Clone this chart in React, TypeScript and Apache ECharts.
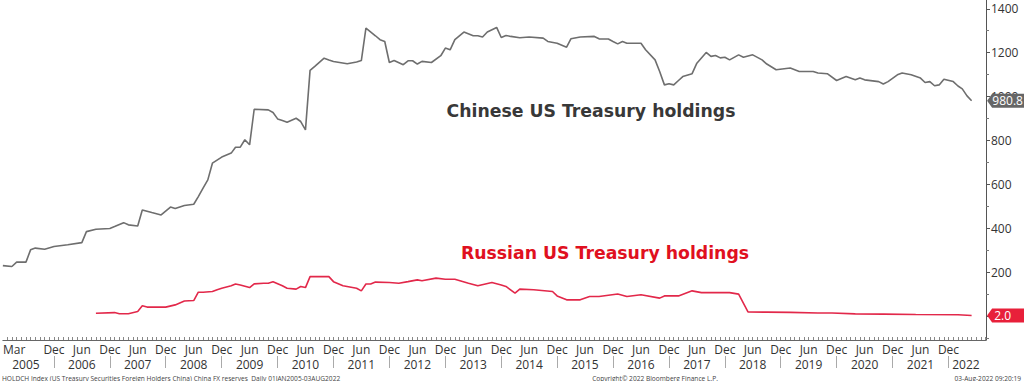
import React, { useEffect, useRef } from 'react';
import * as echarts from 'echarts';

// ---------- data ----------
const chinaDates = [
  '2005-01','2005-03','2005-04','2005-06','2005-07','2005-08','2005-10','2005-12',
  '2006-03','2006-06','2006-07','2006-09','2006-12',
  '2007-01','2007-03','2007-04','2007-06','2007-07','2007-09','2007-11',
  '2008-01','2008-02','2008-04','2008-06','2008-07','2008-08','2008-09','2008-10','2008-12',
  '2009-02','2009-03','2009-04','2009-05','2009-06','2009-07','2009-10','2009-11','2009-12',
  '2010-01','2010-02','2010-04','2010-05','2010-06','2010-07','2010-08','2010-10','2010-11','2010-12',
  '2011-03','2011-05','2011-06','2011-07','2011-09','2011-10','2011-11','2011-12',
  '2012-01','2012-03','2012-04','2012-05','2012-06','2012-07','2012-09','2012-11','2012-12',
  '2013-01','2013-02','2013-04','2013-06','2013-07','2013-08','2013-09','2013-11','2013-12',
  '2014-01','2014-02','2014-04','2014-06','2014-09','2014-10','2014-12',
  '2015-02','2015-03','2015-05','2015-08','2015-09','2015-11','2015-12',
  '2016-01','2016-02','2016-03','2016-06','2016-07','2016-09','2016-10','2016-11','2016-12',
  '2017-01','2017-02','2017-03','2017-05','2017-06','2017-08','2017-09','2017-10','2017-11','2017-12',
  '2018-01','2018-03','2018-04','2018-06','2018-08','2018-09','2018-11',
  '2019-02','2019-04','2019-07','2019-08','2019-10','2019-12',
  '2020-02','2020-04','2020-05','2020-06','2020-09','2020-10','2020-11',
  '2021-01','2021-02','2021-04','2021-06','2021-07','2021-08','2021-09','2021-10','2021-11',
  '2022-01','2022-02','2022-03','2022-04','2022-05',
];
const chinaValues = [
  229,225,245,245,301,309,304,316,
  324,334,384,395,398,
  407,425,415,410,483,471,460,
  496,489,503,509,544,582,620,696,724,
  742,769,769,803,780,942,939,927,898,
  891,883,901,886,848,1119,1137,1175,1167,1160,
  1149,1157,1164,1312,1277,1259,1251,1155,
  1164,1145,1163,1163,1148,1160,1155,1186,1221,
  1213,1259,1294,1277,1277,1271,1294,1315,1269,
  1278,1274,1268,1271,1266,1251,1243,
  1225,1263,1271,1274,1263,1262,1251,
  1240,1251,1243,1243,1213,1167,1114,1053,1058,
  1053,1073,1091,1104,1152,1201,1183,1187,1176,1179,
  1167,1190,1179,1190,1167,1148,1122,
  1130,1114,1114,1107,1104,1073,
  1091,1076,1084,1076,1068,1057,1068,
  1099,1107,1099,1084,1064,1068,1049,1053,1079,
  1068,1048,1035,1003,980.8,
];
const russiaDates = [
  '2006-09','2007-01','2007-02','2007-04','2007-06','2007-07','2007-08','2007-12',
  '2008-02','2008-04','2008-06','2008-07','2008-08','2008-10','2008-11','2008-12',
  '2009-02','2009-03','2009-04','2009-06','2009-07','2009-09','2009-10','2009-11',
  '2010-01','2010-02','2010-04','2010-05','2010-06','2010-07','2010-09','2010-11','2010-12',
  '2011-02','2011-05','2011-06','2011-07','2011-08','2011-09','2011-12',
  '2012-02','2012-04','2012-06','2012-07','2012-10','2012-12',
  '2013-02','2013-05','2013-07','2013-10','2013-12',
  '2014-01','2014-03','2014-04','2014-07','2014-11','2014-12',
  '2015-02','2015-05','2015-07','2015-09',
  '2016-01','2016-03','2016-06','2016-10','2016-11',
  '2017-02','2017-05','2017-07','2017-10',
  '2018-01','2018-03','2018-05','2018-09',
  '2019-02','2019-08','2019-11','2020-04','2020-10','2021-05','2022-02','2022-05',
];
const russiaValues = [
  12,15,10,10,20,46,40,40,
  50,68,70,108,108,111,119,126,
  137,145,141,129,146,149,149,156,
  137,126,122,134,129,179,179,179,156,
  137,126,114,145,145,154,152,
  149,156,164,160,172,167,
  167,149,137,152,141,
  134,104,122,119,111,91,
  73,73,88,88,
  100,88,96,81,91,
  91,114,106,106,
  106,99,18,17,
  16,13,13,9,8,6,5,2.0,
];

const axisStart = '2005-01-01';
const axisEnd = '2022-08-03';
const firstMonthLabelDate = '2005-03-16';
const decLabelYears = [2005,2006,2007,2008,2009,2010,2011,2012,2013,2014,2015,2016,2017,2018,2019,2020,2021];
const junLabelYears = [2006,2007,2008,2009,2010,2011,2012,2013,2014,2015,2016,2017,2018,2019,2020,2021];
const yearLabels = ['2005','2006','2007','2008','2009','2010','2011','2012','2013','2014','2015','2016','2017','2018','2019','2020','2021','2022'];
const yearLabelDates = ['2005-06-01','2006-06-01','2007-06-01','2008-06-01','2009-06-01','2010-06-01','2011-06-01','2012-06-01','2013-06-01','2014-06-01','2015-06-01','2016-06-01','2017-06-01','2018-06-01','2019-06-01','2020-06-01','2021-06-01','2022-03-25'];
const yLabelValues = [200, 400, 600, 800, 1000, 1200, 1400];
const yTickValues = [0, 200, 400, 600, 800, 1000, 1200, 1400];
const yMinorTickValues = [-100, 100, 300, 500, 700, 900, 1100, 1300];
const yMin = -110;
const yMax = 1440;

const chinaLabel = 'Chinese US Treasury holdings';
const russiaLabel = 'Russian US Treasury holdings';
const footerLeft = 'HOLDCH Index (US Treasury Securities Foreign Holders China) China FX reserves  Daily 01JAN2005-03AUG2022';
const footerCenter = 'Copyright\u00a9 2022 Bloomberg Finance L.P.';
const footerRight = '03-Aug-2022 09:20:19';

const MONTHS = ['Jan','Feb','Mar','Apr','May','Jun','Jul','Aug','Sep','Oct','Nov','Dec'];

function ts(s: string): number {
  const p = s.split('-').map(Number);
  return new Date(p[0], (p[1] || 1) - 1, p[2] || 1).getTime();
}

const AXIS_FONT = '"Open Sans", "Noto Sans", sans-serif';
const BOLD_FONT = '"DejaVu Sans", sans-serif';

export default function App() {
  const ref = useRef<HTMLDivElement>(null);
  useEffect(() => {
    if (!ref.current) return;
    const chart = echarts.init(ref.current, null, { renderer: 'svg' });

    const chinaData = chinaDates.map((d, i) => [ts(d), chinaValues[i]]);
    const russiaData = russiaDates.map((d, i) => [ts(d), russiaValues[i]]);

    const monthLabelValues = [ts(firstMonthLabelDate)];
    decLabelYears.forEach((y) => monthLabelValues.push(ts(`${y}-12-01`)));
    junLabelYears.forEach((y) => monthLabelValues.push(ts(`${y}-06-01`)));
    monthLabelValues.sort((a, b) => a - b);

    const monthTicks: number[] = [];
    for (let y = 2005; y <= 2022; y++) {
      for (let m = 1; m <= 12; m += 1) {
        const t = new Date(y, m - 1, 1).getTime();
        if (t > ts(axisStart) && t < ts(axisEnd)) monthTicks.push(t);
      }
    }
    const decSeparators = decLabelYears.map((y) => ts(`${y}-12-01`));
    const yearLabelValues = yearLabelDates.map(ts);

    const lastChina = chinaData[chinaData.length - 1];
    const lastRussia = russiaData[russiaData.length - 1];
    const tagPath = 'path://M0,7 L5,0 L37,0 L37,14 L5,14 Z';

    chart.setOption({
      animation: false,
      backgroundColor: '#ffffff',
      grid: { left: 0, right: 38, top: 0, bottom: 41, containLabel: false },
      xAxis: [
        {
          type: 'value',
          min: ts(axisStart),
          max: ts(axisEnd),
          position: 'bottom',
          axisLine: { show: true, onZero: false, lineStyle: { color: '#666', width: 1 } },
          axisTick: { show: true, inside: true, length: 3, customValues: monthTicks, lineStyle: { color: '#888' } },
          axisLabel: {
            customValues: monthLabelValues,
            margin: 3,
            color: '#333',
            fontSize: 12,
            lineHeight: 13,
            fontFamily: AXIS_FONT,
            formatter: (v: number) => MONTHS[new Date(v).getMonth()],
          },
          splitLine: { show: false },
        },
        {
          type: 'value',
          min: ts(axisStart),
          max: ts(axisEnd),
          position: 'bottom',
          offset: 16,
          axisLine: { show: false, onZero: false },
          axisTick: { show: true, length: 12, customValues: decSeparators, lineStyle: { color: '#aaa' } },
          axisLabel: {
            customValues: yearLabelValues,
            margin: 2,
            color: '#333',
            fontSize: 12,
            lineHeight: 13,
            fontFamily: AXIS_FONT,
            formatter: (v: number) => {
              const i = yearLabelValues.indexOf(v);
              return i >= 0 ? yearLabels[i] : '';
            },
          },
          splitLine: { show: false },
        },
      ],
      yAxis: [
        {
          type: 'value',
          position: 'right',
          min: yMin,
          max: yMax,
          axisLine: { show: true, onZero: false, lineStyle: { color: '#555', width: 1 } },
          axisTick: { show: true, length: 4, customValues: yTickValues, lineStyle: { color: '#555' } },
          axisLabel: {
            customValues: yLabelValues,
            margin: 5,
            color: '#333',
            fontSize: 12,
            fontFamily: AXIS_FONT,
            formatter: (v: number) => String(v),
          },
          splitLine: { show: false },
        },
        {
          type: 'value',
          position: 'right',
          min: yMin,
          max: yMax,
          axisLine: { show: false, onZero: false },
          axisTick: { show: true, length: 3, customValues: yMinorTickValues, lineStyle: { color: '#777' } },
          axisLabel: { show: false },
          splitLine: { show: false },
        },
      ],
      series: [
        {
          name: 'China',
          type: 'line',
          xAxisIndex: 0,
          yAxisIndex: 0,
          data: chinaData,
          showSymbol: false,
          symbol: 'none',
          lineStyle: { color: '#6e6e6e', width: 1.6 },
          z: 3,
          markPoint: {
            symbol: tagPath,
            symbolSize: [37, 14],
            symbolOffset: [34, 0],
            silent: true,
            itemStyle: { color: '#666666' },
            label: {
              show: true,
              position: 'inside',
              offset: [2, 0],
              color: '#ffffff',
              fontSize: 12,
              fontFamily: AXIS_FONT,
              formatter: () => lastChina[1].toFixed(1),
            },
            data: [{ coord: lastChina }],
          },
        },
        {
          name: 'Russia',
          type: 'line',
          xAxisIndex: 0,
          yAxisIndex: 0,
          data: russiaData,
          showSymbol: false,
          symbol: 'none',
          lineStyle: { color: '#e2284a', width: 1.6 },
          z: 3,
          markPoint: {
            symbol: tagPath,
            symbolSize: [37, 14],
            symbolOffset: [34, 0],
            silent: true,
            itemStyle: { color: '#e8203a' },
            label: {
              show: true,
              position: 'inside',
              offset: [-3, 0],
              color: '#ffffff',
              fontSize: 12,
              fontFamily: AXIS_FONT,
              formatter: () => lastRussia[1].toFixed(1),
            },
            data: [{ coord: lastRussia }],
          },
        },
      ],
      graphic: [
        {
          type: 'text',
          x: 591,
          y: 111,
          style: { text: chinaLabel, align: 'center', verticalAlign: 'middle', font: `bold 17.3px ${BOLD_FONT}`, fill: '#383838' },
        },
        {
          type: 'text',
          x: 605,
          y: 253,
          style: { text: russiaLabel, align: 'center', verticalAlign: 'middle', font: `bold 17.3px ${BOLD_FONT}`, fill: '#e01020' },
        },
        {
          type: 'text',
          x: 2,
          y: 378,
          style: { text: footerLeft, align: 'left', verticalAlign: 'middle', font: `6.6px ${AXIS_FONT}`, fill: '#444' },
        },
        {
          type: 'text',
          x: 655,
          y: 378,
          style: { text: footerCenter, align: 'center', verticalAlign: 'middle', font: `6.6px ${AXIS_FONT}`, fill: '#444' },
        },
        {
          type: 'text',
          x: 1021,
          y: 378,
          style: { text: footerRight, align: 'right', verticalAlign: 'middle', font: `6.6px ${AXIS_FONT}`, fill: '#444' },
        },
      ],
    });
    return () => chart.dispose();
  }, []);
  return <div ref={ref} style={{ position: 'absolute', left: 0, top: 0, width: 1024, height: 381 }} />;
}
